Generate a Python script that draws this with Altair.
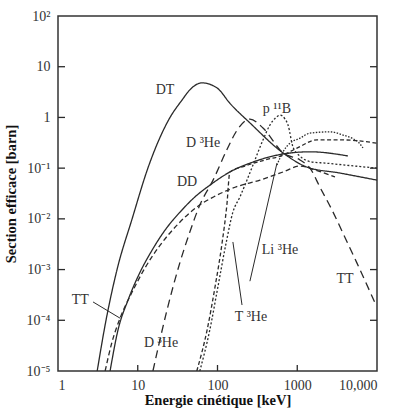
import altair as alt
import pandas as pd

# Fusion cross sections: energy in keV, cross section in barn
dt_e = [3.1, 4.0, 5.5, 8.5, 13.4, 25.4, 35.9, 45, 64, 99, 143, 255, 663, 1325, 3435, 10000]
dt_s = [1e-5, 1e-4, 1e-3, 0.01, 0.1, 1.0, 2.2, 3.5, 4.8, 3.8, 1.9, 0.78, 0.20, 0.105, 0.080, 0.058]

dd_e = [4.5, 5.65, 7.55, 10.7, 15.1, 22, 33.9, 52, 80, 143, 279, 663, 1445, 4326]
dd_s = [1e-5, 6.4e-5, 2.5e-4, 8.9e-4, 2.4e-3, 6.0e-3, 0.0136, 0.027, 0.046, 0.084, 0.132, 0.19, 0.21, 0.174]

tt_e = [3.9, 4.75, 6.0, 8.5, 12.3, 19, 32, 55, 93, 166, 341, 663, 1082, 1670, 2973]
tt_s = [1e-5, 3.7e-5, 1.1e-4, 3.6e-4, 1.07e-3, 3.0e-3, 7.9e-3, 0.0171, 0.028, 0.042, 0.058, 0.084, 0.11, 0.092, 0.067]

dhe_e = [15.5, 23.3, 33.9, 45, 60, 88, 131, 176, 255, 372, 663, 1082, 1445, 1928, 2729, 3749, 5612, 9440]
dhe_s = [1e-5, 1.6e-4, 1.4e-3, 5.5e-3, 0.0187, 0.058, 0.23, 0.56, 0.93, 0.62, 0.20, 0.145, 0.10, 0.042, 0.0149, 5.2e-3, 1.34e-3, 2.2e-4]

the_e = [55, 74, 93, 114, 131, 143, 221, 394, 663, 993, 1770, 3749, 10000]
the_s = [1e-5, 6.4e-5, 4.5e-4, 3.3e-3, 0.0187, 0.084, 0.11, 0.145, 0.18, 0.249, 0.36, 0.36, 0.31]

pb_e = [60, 80, 101, 128, 156, 191, 234, 295, 372, 455, 542, 608, 702, 766, 885, 1082, 1531, 2228, 3970, 10000]
pb_s = [1e-5, 6.4e-5, 4.5e-4, 3.3e-3, 0.0136, 0.027, 0.058, 0.145, 0.36, 0.71, 1.0, 1.11, 0.93, 0.71, 0.26, 0.173, 0.132, 0.126, 0.115, 0.10]

lihe_e = [557, 663, 811, 1082, 1445, 2575, 3749, 4861, 5780, 6670]
lihe_s = [0.115, 0.21, 0.31, 0.39, 0.49, 0.52, 0.45, 0.39, 0.33, 0.25]

curve_names = ["DT", "DD", "TT", "D3He", "T3He", "p11B", "Li3He"]
curve_e = [dt_e, dd_e, tt_e, dhe_e, the_e, pb_e, lihe_e]
curve_s = [dt_s, dd_s, tt_s, dhe_s, the_s, pb_s, lihe_s]
curve_dash = [[1, 0], [1, 0], [5, 3], [8, 5], [4, 2.5], [2, 2], [1.5, 1.5]]

rows = []
for name, es, ss in zip(curve_names, curve_e, curve_s):
    for i, (e, s) in enumerate(zip(es, ss)):
        rows.append({"curve": name, "E": e, "sigma": s, "i": i})
curves = pd.DataFrame(rows)

# In-plot labels
label_text = ["DT", "DD", "D ³He", "D ³He", "TT", "TT", "p ¹¹B", "Li ³He", "T ³He"]
label_e = [22, 41.5, 66, 19.6, 1.9, 3970, 557, 608, 263]
label_s = [3.5, 0.053, 0.31, 3.5e-5, 2.5e-4, 6.5e-4, 1.47, 2.4e-3, 1.16e-4]
labels = pd.DataFrame({"t": label_text, "E": label_e, "sigma": label_s})

# Leader lines from labels to curves
ptr_e1 = [2.75, 203, 255]
ptr_s1 = [2.3e-4, 2.0e-4, 5.9e-4]
ptr_e2 = [6.0, 156, 557]
ptr_s2 = [1.1e-4, 3.5e-3, 0.126]
pointers = pd.DataFrame({"E": ptr_e1, "sigma": ptr_s1, "E2": ptr_e2, "sigma2": ptr_s2})

y_ticks = [1e-5, 1e-4, 1e-3, 1e-2, 1e-1, 1, 10, 100]
x_ticks = [1, 10, 100, 1000, 10000]

W, H = 319, 355
FONT = "Liberation Serif"
INK = "#2a2a2a"

xs = alt.Scale(type="log", domain=[1, 10000])
ys = alt.Scale(type="log", domain=[1e-5, 100])

xaxis = alt.Axis(
    values=x_ticks,
    labelExpr="datum.value >= 10000 ? '10,000' : format(datum.value, 'd')",
    title="Energie cinétique [keV]",
    ticks=False, domain=False, grid=False,
    labelPadding=7, titlePadding=1,
)
yaxis = alt.Axis(
    values=y_ticks,
    labelExpr="['10⁻⁵','10⁻⁴','10⁻³','10⁻²','10⁻¹','1','10','10²'][round(log(datum.value)/LN10) + 5]",
    title="Section efficace [barn]",
    ticks=False, domain=False, grid=False,
    labelPadding=8, titlePadding=8,
)

X = alt.X("E:Q", scale=xs, axis=xaxis)
Y = alt.Y("sigma:Q", scale=ys, axis=yaxis)

lines = alt.Chart(curves).mark_line(
    interpolate="monotone", strokeWidth=1.3, color=INK, clip=True
).encode(
    x=X, y=Y,
    detail="curve:N",
    order="i:Q",
    strokeDash=alt.StrokeDash(
        "curve:N",
        scale=alt.Scale(domain=curve_names, range=curve_dash),
        legend=None,
    ),
)

text = alt.Chart(labels).mark_text(
    font=FONT, fontSize=14, color="#333", align="center", baseline="middle"
).encode(x=X, y=Y, text="t:N")

ptr = alt.Chart(pointers).mark_rule(color=INK, strokeWidth=1).encode(
    x=X, y=Y, x2="E2:Q", y2="sigma2:Q"
)

ytick_df = pd.DataFrame({"sigma": y_ticks[1:-1]})
xtick_df = pd.DataFrame({"E": x_ticks[1:-1]})

left_ticks = alt.Chart(ytick_df).mark_rule(color=INK, strokeWidth=1.3).encode(
    y=Y, x=alt.value(0), x2=alt.value(7)
)
right_ticks = alt.Chart(ytick_df).mark_rule(color=INK, strokeWidth=1.3).encode(
    y=Y, x=alt.value(W - 7), x2=alt.value(W)
)
bottom_ticks = alt.Chart(xtick_df).mark_rule(color=INK, strokeWidth=1.3).encode(
    x=X, y=alt.value(H - 6), y2=alt.value(H)
)

chart = alt.layer(lines, ptr, text, left_ticks, right_ticks, bottom_ticks).properties(
    width=W, height=H,
    autosize="none",
    padding={"left": 58, "top": 16, "right": 35, "bottom": 42},
).configure_view(
    stroke="#333", strokeWidth=1.5
).configure_axis(
    labelFont=FONT, labelFontSize=14, labelColor="#333",
    titleFont=FONT, titleFontSize=14.5, titleFontWeight="bold", titleColor="#111",
)

chart.save("out.html", embed_options={"renderer": "svg", "actions": False})
